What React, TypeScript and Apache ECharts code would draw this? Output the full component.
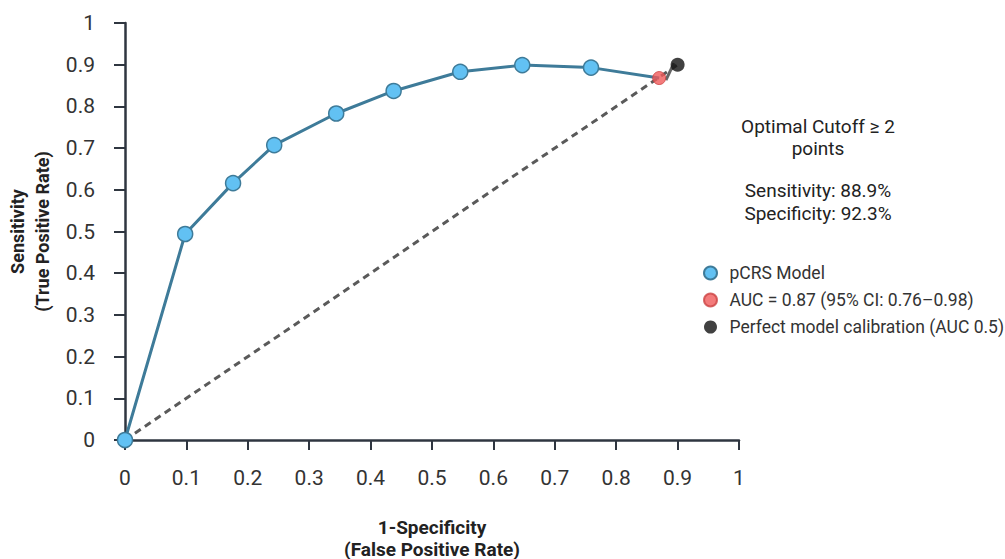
import React, { useEffect, useRef } from "react";
import * as echarts from "echarts";

const rocX = [0, 0.098, 0.176, 0.243, 0.344, 0.4375, 0.546, 0.647, 0.759];
const rocY = [0, 0.494, 0.616, 0.707, 0.783, 0.837, 0.883, 0.899, 0.893];
const cutoffPoint = [0.87, 0.868];
const perfectPoint = [0.9, 0.9];
const diagonal = [
  [0, 0],
  [0.9, 0.9],
];
const slash = [
  [0.881, 0.863],
  [0.894, 0.904],
];
const seriesNames = [
  "pCRS Model",
  "AUC = 0.87 (95% CI: 0.76\u20130.98)",
  "Perfect model calibration (AUC 0.5)",
];
const annotationLines = [
  "Optimal Cutoff \u2265 2",
  "points",
  "Sensitivity: 88.9%",
  "Specificity: 92.3%",
];
const annotationY = [126, 148, 190, 213];

const FONT = "Roboto, 'Noto Sans', sans-serif";
const LINE_COLOR = "#3e7b99";
const AXIS_COLOR = "#2f3640";

export default function App() {
  const ref = useRef<HTMLDivElement>(null);
  useEffect(() => {
    document.body.style.margin = "0";
    document.body.style.overflow = "hidden";
    if (!ref.current) return;
    const chart = echarts.init(ref.current, null, { renderer: "svg" });
    const rocData: any[] = rocX.map((x, i) => [x, rocY[i]]);
    rocData.push({ value: cutoffPoint, symbol: "none" });
    const fmt = (v: number) => String(+Number(v).toFixed(1));
    chart.setOption({
      animation: false,
      backgroundColor: "#fff",
      grid: {
        left: 125,
        top: 23,
        right: 266,
        bottom: 119,
        containLabel: false,
        outerBoundsMode: "none",
      },
      xAxis: {
        type: "value",
        min: 0,
        max: 1,
        interval: 0.1,
        name: "1-Specificity\n(False Positive Rate)",
        nameLocation: "middle",
        nameGap: 76,
        nameTextStyle: {
          fontFamily: FONT,
          fontWeight: "bold",
          fontSize: 19,
          color: "#222",
          lineHeight: 22,
        },
        axisLine: { show: true, lineStyle: { color: AXIS_COLOR, width: 2.5 } },
        axisTick: { show: true, length: 10, lineStyle: { color: AXIS_COLOR, width: 2 } },
        axisLabel: {
          margin: 27,
          fontFamily: FONT,
          fontSize: 21,
          color: "#333",
          formatter: fmt,
        },
        splitLine: { show: false },
      },
      yAxis: {
        type: "value",
        min: 0,
        max: 1,
        interval: 0.1,
        name: "Sensitivity\n(True Positive Rate)",
        nameLocation: "middle",
        nameGap: 69,
        nameTextStyle: {
          fontFamily: FONT,
          fontWeight: "bold",
          fontSize: 18,
          color: "#222",
          lineHeight: 25,
        },
        axisLine: { show: true, lineStyle: { color: AXIS_COLOR, width: 2.5 } },
        axisTick: { show: true, length: 11, lineStyle: { color: AXIS_COLOR, width: 2 } },
        axisLabel: {
          margin: 30,
          fontFamily: FONT,
          fontSize: 21,
          color: "#333",
          formatter: fmt,
        },
        splitLine: { show: false },
      },
      legend: {
        orient: "vertical",
        left: 698,
        top: 259,
        itemGap: 9,
        itemWidth: 28,
        itemHeight: 13,
        icon: "circle",
        data: seriesNames,
        textStyle: { fontFamily: FONT, fontSize: 17.5, color: "#333" },
      },
      graphic: annotationLines.map((t, i) => ({
        type: "text",
        x: 818,
        y: annotationY[i],
        style: {
          text: t,
          align: "center",
          verticalAlign: "middle",
          fontFamily: FONT,
          fontSize: 19,
          fill: "#222",
        },
      })),
      series: [
        {
          type: "line",
          name: "diagonal",
          data: diagonal,
          symbol: "none",
          lineStyle: { color: "#5a5a5a", width: 3, type: [7, 5] },
          z: 1,
          silent: true,
        },
        {
          type: "line",
          name: "slash",
          data: slash,
          symbol: "none",
          lineStyle: { color: "#666", width: 3 },
          z: 2,
          silent: true,
        },
        {
          type: "line",
          name: seriesNames[0],
          data: rocData,
          symbol: "circle",
          symbolSize: 15,
          lineStyle: { color: LINE_COLOR, width: 3 },
          itemStyle: { color: "#62c1f3", borderColor: LINE_COLOR, borderWidth: 1.5 },
          z: 3,
        },
        {
          type: "scatter",
          name: seriesNames[1],
          data: [cutoffPoint],
          symbol: "circle",
          symbolSize: 13,
          itemStyle: { color: "#f05a5a", borderColor: "#c44", borderWidth: 1 },
          z: 4,
        },
        {
          type: "scatter",
          name: seriesNames[2],
          data: [perfectPoint],
          symbol: "circle",
          symbolSize: 14,
          itemStyle: { color: "#111" },
          z: 4,
        },
      ],
    });
    return () => chart.dispose();
  }, []);
  return <div ref={ref} style={{ width: 1005, height: 559 }} />;
}
